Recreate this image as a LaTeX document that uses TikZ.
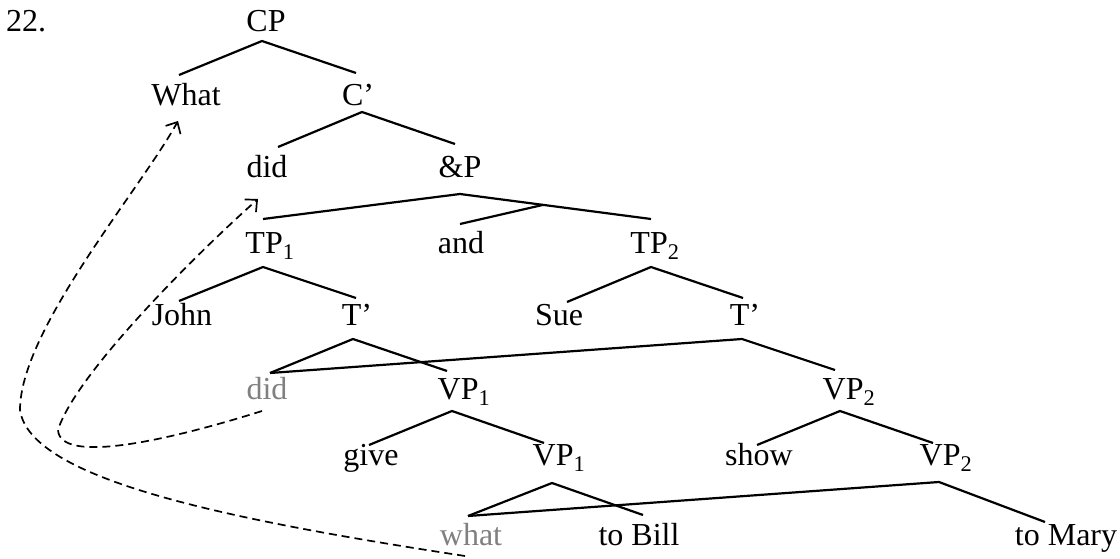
\documentclass[tikz,border=0pt]{standalone}
\usepackage{fontspec}
\setmainfont{Liberation Serif}
\usetikzlibrary{arrows.meta,calc}
\begin{document}
\begin{tikzpicture}[x=1pt,y=-1pt,
  lbl/.style={anchor=base,inner sep=0pt,font=\fontsize{32}{38}\selectfont},
  trace/.style={lbl,text=black!50},
  branch/.style={line width=2.2pt},
  move/.style={line width=1.7pt,dash pattern=on 8pt off 5pt,
    -{Straight Barb[length=9pt,width=17pt,line width=1.7pt]}}]
\useasboundingbox (0,0) rectangle (1120,559);

% labels
\node[lbl,anchor=base west] (ex) at (6,32) {22.};
\node[lbl] (CP) at (266,32) {CP};
\node[lbl] (What) at (186,106) {What};
\node[lbl] (Cbar) at (358,106) {C’};
\node[lbl] (did) at (267,178) {did};
\node[lbl] (andP) at (460,178) {\&P};
\node[lbl] (TPa) at (270,253) {TP\textsubscript{1}};
\node[lbl] (and) at (461,253) {and};
\node[lbl] (TPb) at (655,253) {TP\textsubscript{2}};
\node[lbl] (John) at (182,325) {John};
\node[lbl] (Tbara) at (357,325) {T’};
\node[lbl] (Sue) at (559,325) {Sue};
\node[lbl] (Tbarb) at (745,325) {T’};
\node[trace] (didt) at (267,399) {did};
\node[lbl] (VPa) at (464,399) {VP\textsubscript{1}};
\node[lbl] (VPb) at (849,399) {VP\textsubscript{2}};
\node[lbl] (give) at (371,465) {give};
\node[lbl] (VPaa) at (559,465) {VP\textsubscript{1}};
\node[lbl] (show) at (759,465) {show};
\node[lbl] (VPbb) at (946,465) {VP\textsubscript{2}};
\node[trace] (what) at (471,545) {what};
\node[lbl] (Bill) at (639,545) {to Bill};
\node[lbl] (Mary) at (1066,545) {to Mary};

% branches
\draw[branch] ([shift={(-7,-31)}]What.base) -- ([shift={(-4,9)}]CP.base) -- ([shift={(-2,-33)}]Cbar.base);
\draw[branch] ([shift={(11,-31)}]did.base) -- ([shift={(4,6)}]Cbar.base) -- ([shift={(-5,-34)}]andP.base);
\draw[branch] ([shift={(-7,-34)}]TPa.base) -- ([shift={(0,16)}]andP.base) -- coordinate[pos=0.435] (j) ([shift={(-4,-34)}]TPb.base);
\draw[branch] (j) -- ([shift={(-1,-29)}]and.base);
\draw[branch] ([shift={(-3,-24)}]John.base) -- ([shift={(-7,14)}]TPa.base) -- ([shift={(-1,-27)}]Tbara.base);
\draw[branch] ([shift={(8,-23)}]Sue.base) -- ([shift={(-4,14)}]TPb.base) -- ([shift={(-2,-27)}]Tbarb.base);
\draw[branch] ([shift={(3,-26)}]didt.base) -- ([shift={(-4,14)}]Tbara.base) -- ([shift={(-17,-28)}]VPa.base);
\draw[branch] ([shift={(3,-26)}]didt.base) -- ([shift={(-3,14)}]Tbarb.base) -- ([shift={(-14,-29)}]VPb.base);
\draw[branch] ([shift={(-2,-20)}]give.base) -- ([shift={(-12,12)}]VPa.base) -- ([shift={(-15,-22)}]VPaa.base);
\draw[branch] ([shift={(-2,-20)}]show.base) -- ([shift={(-9,12)}]VPb.base) -- ([shift={(-13,-22)}]VPbb.base);
\draw[branch] ([shift={(-3,-29)}]what.base) -- ([shift={(-7,18)}]VPaa.base) -- ([shift={(4,-30)}]Bill.base);
\draw[branch] ([shift={(-3,-29)}]what.base) -- ([shift={(-7,17)}]VPbb.base) -- ([shift={(-21,-23)}]Mary.base);

% movement arrows
\draw[move] ([shift={(-6,11)}]what.base) .. controls (230,520) and (30,480) .. (20,410)
  .. controls (20,330) and (140,190) .. ([shift={(-8,15)}]What.base);
\draw[move] ([shift={(-5,12)}]didt.base) .. controls (170,440) and (60,465) .. (58,430)
  .. controls (75,375) and (195,255) .. ([shift={(-9,21)}]did.base);
\end{tikzpicture}
\end{document}
